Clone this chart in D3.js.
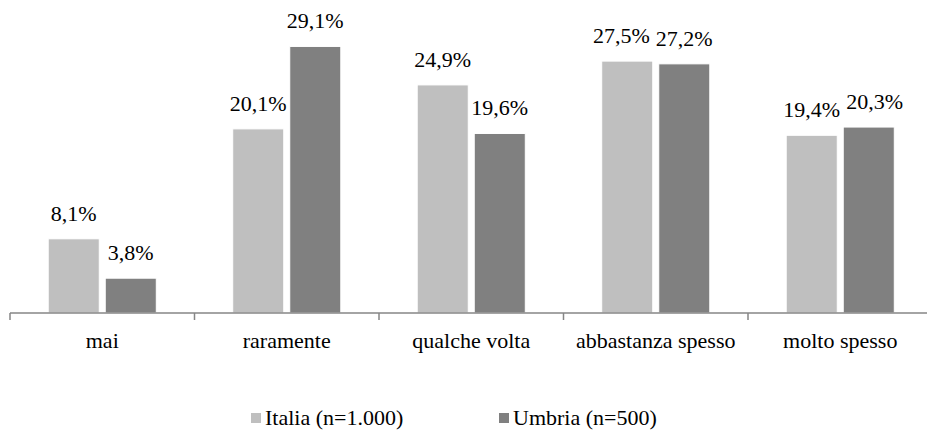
<!DOCTYPE html>
<html>
<head>
<meta charset="utf-8">
<script src="https://cdn.jsdelivr.net/npm/d3@7"></script>
<style>
  body { margin: 0; background: #fff; }
  svg text { font-family: 'Liberation Serif', 'DejaVu Serif', serif; }
</style>
</head>
<body>
<svg id="chart" width="927" height="431"></svg>
<script>
const categories = ['mai', 'raramente', 'qualche volta', 'abbastanza spesso', 'molto spesso'];
const seriesNames = ['Italia (n=1.000)', 'Umbria (n=500)'];
const italia = [8.1, 20.1, 24.9, 27.5, 19.4];
const umbria = [3.8, 29.1, 19.6, 27.2, 20.3];
const colors = ['#bfbfbf', '#808080'];

const svg = d3.select('#chart');
const baseY = 313;
const fontSize = 22;
const fontFamily = 'Liberation Serif, DejaVu Serif, serif';

const it = d3.formatLocale({ decimal: ',', thousands: '.', grouping: [3], currency: ['', '€'] });
const fmt = v => it.format('.1f')(v) + '%';

const x0 = d3.scaleBand().domain(categories).range([10, 932.5]).padding(0);
const x1 = d3.scaleBand().domain(seriesNames).range([0, x0.bandwidth()])
    .paddingInner(0.105).paddingOuter(0.67);
const y = d3.scaleLinear().domain([0, 30]).range([baseY, 38.2]);

const data = categories.map((c, i) => ({
    cat: c,
    values: [
        { name: seriesNames[0], v: italia[i], color: colors[0] },
        { name: seriesNames[1], v: umbria[i], color: colors[1] }
    ]
}));

const groups = svg.append('g').selectAll('g')
    .data(data)
    .join('g')
    .attr('transform', d => `translate(${x0(d.cat)},0)`);

groups.selectAll('rect')
    .data(d => d.values)
    .join('rect')
    .attr('x', d => x1(d.name))
    .attr('y', d => y(d.v))
    .attr('width', x1.bandwidth())
    .attr('height', d => baseY - y(d.v))
    .attr('fill', d => d.color)
    .attr('stroke', '#ffffff')
    .attr('stroke-width', 1);

// value labels, nudged apart when two neighbouring labels collide
groups.each(function(d) {
    const g = d3.select(this);
    const labels = d.values.map(s => g.append('text')
        .attr('x', x1(s.name) + x1.bandwidth() / 2)
        .attr('y', y(s.v) - 18)
        .attr('text-anchor', 'middle')
        .attr('font-family', fontFamily)
        .attr('font-size', fontSize)
        .attr('fill', '#000')
        .text(fmt(s.v)));
    const w = labels.map(l => l.node().getComputedTextLength());
    const cx = d.values.map(s => x1(s.name) + x1.bandwidth() / 2);
    const dy = Math.abs(y(d.values[0].v) - y(d.values[1].v));
    const gap = 6;
    const overlap = (cx[0] + w[0] / 2 + gap) - (cx[1] - w[1] / 2);
    if (dy < fontSize && overlap > 0) {
        if (d.values[0].v >= d.values[1].v) {
            labels[0].attr('x', cx[0] - overlap);
        } else {
            labels[1].attr('x', cx[1] + overlap);
        }
    }
});

// axis line, ticks at category edges, category labels
const axis = svg.append('g');
axis.append('line')
    .attr('x1', 10).attr('x2', 927)
    .attr('y1', baseY).attr('y2', baseY)
    .attr('stroke', '#868686').attr('stroke-width', 1.5);

axis.selectAll('.tick')
    .data(categories.map(c => x0(c)).concat([x0(categories[categories.length - 1]) + x0.bandwidth()]))
    .join('line')
    .attr('x1', d => d).attr('x2', d => d)
    .attr('y1', baseY).attr('y2', baseY + 7)
    .attr('stroke', '#868686').attr('stroke-width', 1.5);

axis.selectAll('.cat')
    .data(categories)
    .join('text')
    .attr('x', d => x0(d) + x0.bandwidth() / 2)
    .attr('y', baseY + 35)
    .attr('text-anchor', 'middle')
    .attr('font-family', fontFamily)
    .attr('font-size', fontSize)
    .attr('fill', '#000')
    .text(d => d);

// legend
const legendX = [251, 499];
const legend = svg.append('g').selectAll('g')
    .data(seriesNames)
    .join('g')
    .attr('transform', (d, i) => `translate(${legendX[i]},413)`);

legend.append('rect')
    .attr('width', 10).attr('height', 10)
    .attr('fill', (d, i) => colors[i]);

legend.append('text')
    .attr('x', 14)
    .attr('y', 12)
    .attr('font-family', fontFamily)
    .attr('font-size', fontSize)
    .attr('fill', '#000')
    .text(d => d);
</script>
</body>
</html>
